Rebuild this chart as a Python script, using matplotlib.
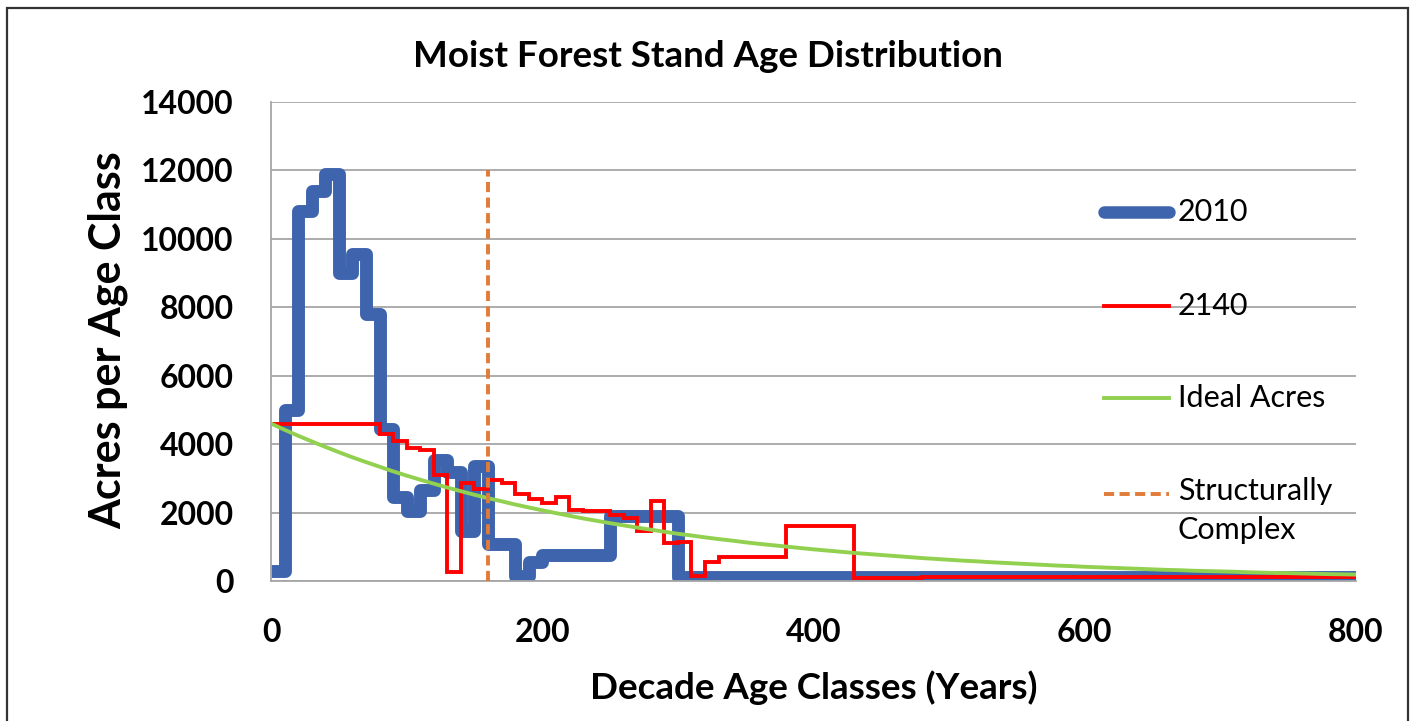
import matplotlib.pyplot as plt
from matplotlib.patches import Rectangle

# ── Data ─────────────────────────────────────────────────────────────────────
# decade class start ages; last entry closes the final step at 800 years
ages = list(range(0, 810, 10))

acres_2010 = [
    300, 5000, 10800, 11400, 11900, 9000, 9550, 7800, 4450, 2450,   # 0-90
    2050, 2650, 3550, 3200, 1450, 3350, 1080, 1080, 150, 550,      # 100-190
    750, 750, 750, 750, 750, 1900, 1900, 1900, 1900, 1900,         # 200-290
] + [110] * 51                                                     # 300-800

acres_2140 = [
    4600, 4600, 4600, 4600, 4600, 4600, 4600, 4600, 4300, 4100,    # 0-90
    3900, 3830, 3100, 250, 2850, 2700, 2950, 2850, 2550, 2400,     # 100-190
    2270, 2450, 2070, 2050, 2050, 1930, 1850, 1450, 2350, 1100,    # 200-290
    1150, 150, 550, 700, 700, 700, 700, 700, 1600, 1600,           # 300-390
    1600, 1600, 1600, 80, 80, 80, 80, 80,                          # 400-470
] + [110] * 33                                                     # 480-800

ideal_acres = [
    4600, 4420, 4245, 4080, 3920, 3765, 3615, 3475, 3340, 3205,
    3080, 2960, 2845, 2730, 2625, 2520, 2420, 2330, 2235, 2150,
    2065, 1985, 1905, 1830, 1760, 1690, 1625, 1560, 1500, 1440,
    1380, 1330, 1275, 1225, 1180, 1130, 1085, 1045, 1005, 965,
    925, 890, 855, 820, 790, 760, 730, 700, 670, 645,
    620, 595, 575, 550, 530, 510, 490, 470, 450, 435,
    415, 400, 385, 370, 355, 340, 325, 315, 300, 290,
    280, 270, 255, 245, 235, 230, 220, 210, 200, 195, 187,
]

structurally_complex_age = 160
structurally_complex_top = 12000

x_ticks = [0, 200, 400, 600, 800]
y_ticks = list(range(0, 14001, 2000))

series_labels = ["2010", "2140", "Ideal Acres", "Structurally\nComplex"]

BLUE, RED, GREEN, ORANGE = "#3d64ad", "#ff0000", "#92d050", "#e07b39"
DASH = (0, (2.6, 1.4))

# ── Figure ───────────────────────────────────────────────────────────────────
plt.rcParams["font.family"] = ["Lato", "DejaVu Sans"]

fig = plt.figure(figsize=(14.16, 7.21), dpi=100)
ax = fig.add_axes([0.1914, 0.1942, 0.7662, 0.6643])

fig.patches.append(Rectangle((0.005, -0.05), 0.989, 1.039, transform=fig.transFigure,
                             fill=False, edgecolor="#333333", lw=1.6))

ax.step(ages, acres_2010, where="post", color=BLUE, lw=9.3,
        solid_joinstyle="round", solid_capstyle="butt", zorder=2)
ax.step(ages, acres_2140, where="post", color=RED, lw=2.8,
        solid_joinstyle="miter", zorder=3)
ax.plot(ages, ideal_acres, color=GREEN, lw=2.8, zorder=4)
ax.plot([structurally_complex_age, structurally_complex_age], [0, structurally_complex_top],
        color=ORANGE, lw=2.8, ls=DASH, zorder=5)

ax.set_xlim(0, 800)
ax.set_ylim(0, 14000)
ax.set_xticks(x_ticks)
ax.set_yticks(y_ticks)
ax.tick_params(length=0, labelsize=23)
ax.tick_params(axis="y", pad=27)
ax.tick_params(axis="x", pad=27)
for lab in ax.get_xticklabels() + ax.get_yticklabels():
    lab.set_fontweight("bold")

ax.grid(axis="y", color="#a6a6a6", lw=1.3)
ax.set_axisbelow(True)
for side in ["top", "right"]:
    ax.spines[side].set_visible(False)
for side in ["left", "bottom"]:
    ax.spines[side].set_color("#a6a6a6")
    ax.spines[side].set_linewidth(1.3)

ax.set_title("Moist Forest Stand Age Distribution", fontsize=26.5, fontweight="bold",
             x=0.403, y=1.077, va="center")
ax.set_xlabel("Decade Age Classes (Years)", fontsize=26.5, fontweight="bold", va="center")
ax.xaxis.set_label_coords(0.5, -0.2234)
ax.set_ylabel("Acres per Age Class", fontsize=31, fontweight="bold", va="center")
ax.yaxis.set_label_coords(-0.1502, 0.503)

# legend drawn in axes fraction so the dashed handle sits on the first label line
handle_x = [0.7675, 0.8280]
legend_rows = [0.7704, 0.5741, 0.3820, 0.1816]
styles = [dict(color=BLUE, lw=9, solid_capstyle="round"),
          dict(color=RED, lw=2.8),
          dict(color=GREEN, lw=2.8),
          dict(color=ORANGE, lw=2.8, ls=DASH)]
for yy, lab, st in zip(legend_rows, series_labels, styles):
    ax.plot(handle_x, [yy, yy], transform=ax.transAxes, clip_on=False, zorder=6, **st)
    ax.text(0.8359, yy, lab, transform=ax.transAxes, fontsize=22, va="top",
            ha="left", linespacing=1.46)

fig.canvas.draw()
# shift label texts so that the first line is centred on the handle
for t in ax.texts:
    bb = t.get_window_extent()
    n_lines = t.get_text().count("\n") + 1
    line_h = bb.height / n_lines
    _, y_first = ax.transAxes.inverted().transform((bb.x0, bb.y1 - line_h / 2))
    yy = t.get_position()[1]
    t.set_y(2 * yy - y_first)

fig.savefig("out.png", dpi=100)
